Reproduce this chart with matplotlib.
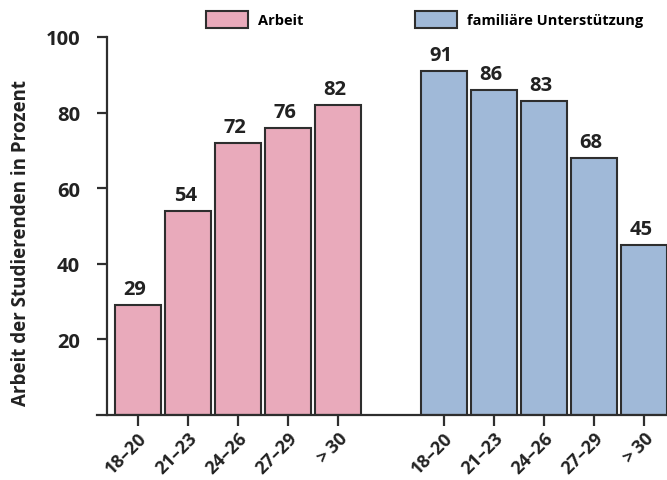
import matplotlib
matplotlib.use('Agg')
import matplotlib.pyplot as plt

plt.rcParams['font.family'] = ['Open Sans', 'DejaVu Sans']
plt.rcParams['font.weight'] = 'bold'

# Age groups and shares (percent) for both groups
age_groups = ['18–20', '21–23', '24–26', '27–29', '>\u200930']
arbeit = [29, 54, 72, 76, 82]
familie = [91, 86, 83, 68, 45]
y_ticks = [20, 40, 60, 80, 100]

pink = '#E9AABB'
blue = '#A0B9D8'
edge = '#2e2e2e'
text_col = '#222222'

fig = plt.figure(figsize=(6.67, 4.81), dpi=100)
ax = fig.add_axes([97 / 667, 65 / 481, 570 / 667, 378 / 481])

x_left = [i for i in range(len(arbeit))]
x_right = [i + 6.12 for i in range(len(familie))]

b1 = ax.bar(x_left, arbeit, width=0.92, color=pink, edgecolor=edge,
            linewidth=1.5, label='Arbeit')
b2 = ax.bar(x_right, familie, width=0.92, color=blue, edgecolor=edge,
            linewidth=1.5, label='familiäre Unterstützung')

# value labels above the bars
for x, v in zip(x_left + x_right, arbeit + familie):
    ax.annotate(str(v), (x, v), xytext=(-2, 8), textcoords='offset points',
                ha='center', va='baseline', fontsize=14.5, fontweight='bold',
                color=text_col, annotation_clip=False)

ax.set_xlim(-0.82, 10.58)
ax.set_ylim(0, 100)

ax.spines['top'].set_visible(False)
ax.spines['right'].set_visible(False)
ax.spines['left'].set_position(('data', -0.62))
for side in ('left', 'bottom'):
    ax.spines[side].set_linewidth(1.6)
    ax.spines[side].set_color(edge)

ax.set_yticks(y_ticks)
ax.set_yticklabels([str(t) for t in y_ticks], fontsize=14.5,
                   fontweight='bold', color=text_col)
ax.tick_params(axis='y', length=7.5, width=1.6, pad=12, color=edge)

ax.set_xticks(x_left + x_right)
ax.set_xticklabels(age_groups * 2, fontsize=13, fontweight='bold',
                   color=text_col, rotation=45, ha='right', va='top',
                   rotation_mode='anchor')
ax.tick_params(axis='x', length=8, width=1.6, pad=2, color=edge)

ax.set_ylabel('Arbeit der Studierenden in Prozent', fontsize=13.5,
              fontweight='bold', color=text_col)
ax.yaxis.set_label_coords(-0.115, 0.458)

fig.legend(handles=[b1, b2], loc='upper left', ncol=2,
           bbox_to_anchor=(206 / 667, 1 - 12 / 481), frameon=False,
           prop={'size': 10.5, 'weight': 'bold'}, handlelength=2.9,
           handleheight=1.45, handletextpad=0.7, columnspacing=7.6,
           borderpad=0, borderaxespad=0)

fig.savefig('out.png', dpi=100)
